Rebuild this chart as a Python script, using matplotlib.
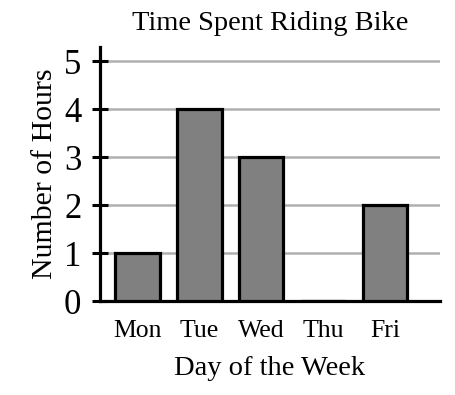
import matplotlib.pyplot as plt

days = ['Mon', 'Tue', 'Wed', 'Thu', 'Fri']
hours = [1, 4, 3, 0, 2]
yticks = [0, 1, 2, 3, 4, 5]

plt.rcParams['font.family'] = 'Liberation Serif'

fig = plt.figure(figsize=(4.55, 3.95), dpi=100)
ax = fig.add_axes([100/455, 94/395, 340/455, 254/395])

x = list(range(len(days)))
ax.bar(x, hours, width=0.72, color='#808080', edgecolor='black', linewidth=2.3, zorder=3)

ax.set_xlim(-0.606, 4.89)
ax.set_ylim(0, 5.3)
ax.set_yticks(yticks)
ax.set_xticks(x)
ax.set_xticklabels(days, fontsize=18.5)
ax.tick_params(axis='y', direction='inout', length=11, width=2.2, labelsize=25, pad=8)
ax.tick_params(axis='x', length=0, pad=14)
ax.yaxis.grid(True, color='#b0b0b0', linewidth=1.8, zorder=0)
ax.set_axisbelow(True)

for s in ['top', 'right']:
    ax.spines[s].set_visible(False)
for s in ['left', 'bottom']:
    ax.spines[s].set_linewidth(2.3)

ax.set_title('Time Spent Riding Bike', fontsize=20.5, pad=12)
ax.set_xlabel('Day of the Week', fontsize=20.5, labelpad=10)
ax.set_ylabel('Number of Hours', fontsize=21.5, labelpad=4)

fig.savefig('out.png', dpi=100)
